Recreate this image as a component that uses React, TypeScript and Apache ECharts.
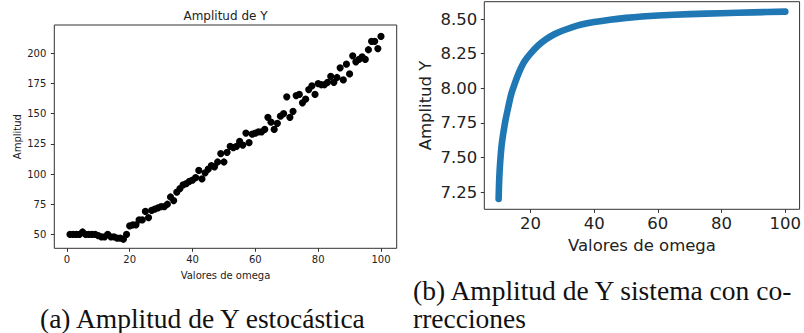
import React, { useEffect, useRef } from "react";
import * as echarts from "echarts";

// Left chart: stochastic amplitude (omega = 1..100)
const omegaA: number[] = Array.from({ length: 100 }, (_, i) => i + 1);
const ampA: number[] = [
  50, 50, 50, 50, 52, 50, 50, 50, 50, 49,
  48, 48, 50, 48, 48, 47, 47, 46, 50, 57,
  58, 58, 62, 62, 69, 64, 70, 71, 72, 73,
  73, 75, 81, 78, 85, 88, 91, 92, 94, 95,
  97, 103, 96, 101, 104, 107, 106, 110, 117, 110,
  118, 123, 122, 123, 127, 124, 134, 126, 133, 134,
  135, 135, 137, 147, 143, 137, 142, 148, 150, 164,
  147, 152, 165, 166, 159, 162, 170, 173, 166, 175,
  174, 174, 176, 181, 176, 180, 188, 178, 191, 183,
  198, 193, 195, 197, 195, 203, 210, 210, 204, 214,
];
const ticksA: number[] = [0, 20, 40, 60, 80, 100];
const yTicksA: number[] = [50, 75, 100, 125, 150, 175, 200];

// Right chart: corrected system amplitude
const omegaB: number[] = [10, 10.2, 10.5, 11, 12, 13, 14, 15, 16.5, 18, 20, 22.5, 25, 27.5, 30, 33, 36, 40, 45, 50, 55, 60, 70, 80, 90, 100];
const ampB: number[] = [7.2, 7.35, 7.47, 7.6, 7.75, 7.86, 7.96, 8.03, 8.12, 8.19, 8.25, 8.31, 8.355, 8.39, 8.415, 8.44, 8.46, 8.478, 8.495, 8.508, 8.518, 8.525, 8.535, 8.542, 8.548, 8.553];
const ticksB: number[] = [20, 40, 60, 80, 100];
const yTicksB: number[] = [7.25, 7.5, 7.75, 8.0, 8.25, 8.5];

const TXT = "#222";
const SANS = "DejaVu Sans";
const SERIF = "Liberation Serif";

export default function App() {
  const ref = useRef<HTMLDivElement>(null);
  useEffect(() => {
    document.body.style.margin = "0";
    if (!ref.current) return;
    const chart = echarts.init(ref.current, undefined, { renderer: "svg" });
    const axisCommon = (fs: number) => ({
      axisLine: { show: false, onZero: false },
      splitLine: { show: false },
      nameTextStyle: { color: TXT, fontFamily: SANS, fontSize: fs },
    });
    const tick = (vals: number[]) => ({
      show: true, length: 3.5, customValues: vals, lineStyle: { color: "#333", width: 1 },
    });
    const gA = { left: 54.3, top: 25, width: 342.4, height: 223.3 };
    const gB = { left: 484.3, top: 1.7, width: 315.7, height: 207.6 };
    chart.setOption({
      animation: false,
      grid: [
        { ...gA, show: true, borderColor: "#333", borderWidth: 1, backgroundColor: "#fff" },
        { ...gB, show: true, borderColor: "#333", borderWidth: 1, backgroundColor: "#fff" },
      ],
      xAxis: [
        {
          type: "value", gridIndex: 0, min: -4, max: 105,
          ...axisCommon(10),
          axisTick: tick(ticksA),
          axisLabel: { color: TXT, fontFamily: SANS, fontSize: 10, margin: 6, customValues: ticksA },
          name: "Valores de omega", nameLocation: "middle", nameGap: 22,
        },
        {
          type: "value", gridIndex: 1, min: 5.5, max: 104.5,
          ...axisCommon(16.5),
          axisTick: tick(ticksB),
          axisLabel: { color: TXT, fontFamily: SANS, fontSize: 16.5, margin: 6, customValues: ticksB },
          name: "Valores de omega", nameLocation: "middle", nameGap: 26,
        },
      ],
      yAxis: [
        {
          type: "value", gridIndex: 0, min: 38.5, max: 223.5,
          ...axisCommon(10),
          axisTick: tick(yTicksA),
          axisLabel: { color: TXT, fontFamily: SANS, fontSize: 10, margin: 8, customValues: yTicksA },
          name: "Amplitud", nameLocation: "middle", nameGap: 32,
        },
        {
          type: "value", gridIndex: 1, min: 7.125, max: 8.625,
          ...axisCommon(16.5),
          axisTick: tick(yTicksB),
          axisLabel: {
            color: TXT, fontFamily: SANS, fontSize: 16.5, margin: 7, customValues: yTicksB,
            formatter: (v: number) => v.toFixed(2),
          },
          name: "Amplitud Y", nameLocation: "middle", nameGap: 50,
        },
      ],
      series: [
        {
          type: "scatter", xAxisIndex: 0, yAxisIndex: 0,
          data: omegaA.map((x, i) => [x, ampA[i]]),
          symbolSize: 7.2, itemStyle: { color: "#000", opacity: 1 },
        },
        {
          type: "line", xAxisIndex: 1, yAxisIndex: 1,
          data: omegaB.map((x, i) => [x, ampB[i]]),
          showSymbol: false, smooth: 0.3,
          lineStyle: { color: "#1f77b4", width: 6.6, cap: "round", join: "round" },
        },
      ],
      graphic: [
        {
          type: "text", x: gA.left + gA.width / 2, y: 16,
          style: { text: "Amplitud de Y", fill: TXT, font: `12px "${SANS}"`, align: "center", verticalAlign: "middle" },
        },
        {
          type: "text", x: 40, y: 318,
          style: { text: "(a) Amplitud de Y estocástica", fill: "#111", font: `27.5px "${SERIF}"`, align: "left", verticalAlign: "middle" },
        },
        {
          type: "text", x: 413, y: 290,
          style: { text: "(b) Amplitud de Y sistema con co-", fill: "#111", font: `27.5px "${SERIF}"`, align: "left", verticalAlign: "middle" },
        },
        {
          type: "text", x: 413, y: 318,
          style: { text: "rrecciones", fill: "#111", font: `27.5px "${SERIF}"`, align: "left", verticalAlign: "middle" },
        },
      ],
    });
    return () => chart.dispose();
  }, []);
  return <div ref={ref} style={{ width: 804, height: 333 }} />;
}
